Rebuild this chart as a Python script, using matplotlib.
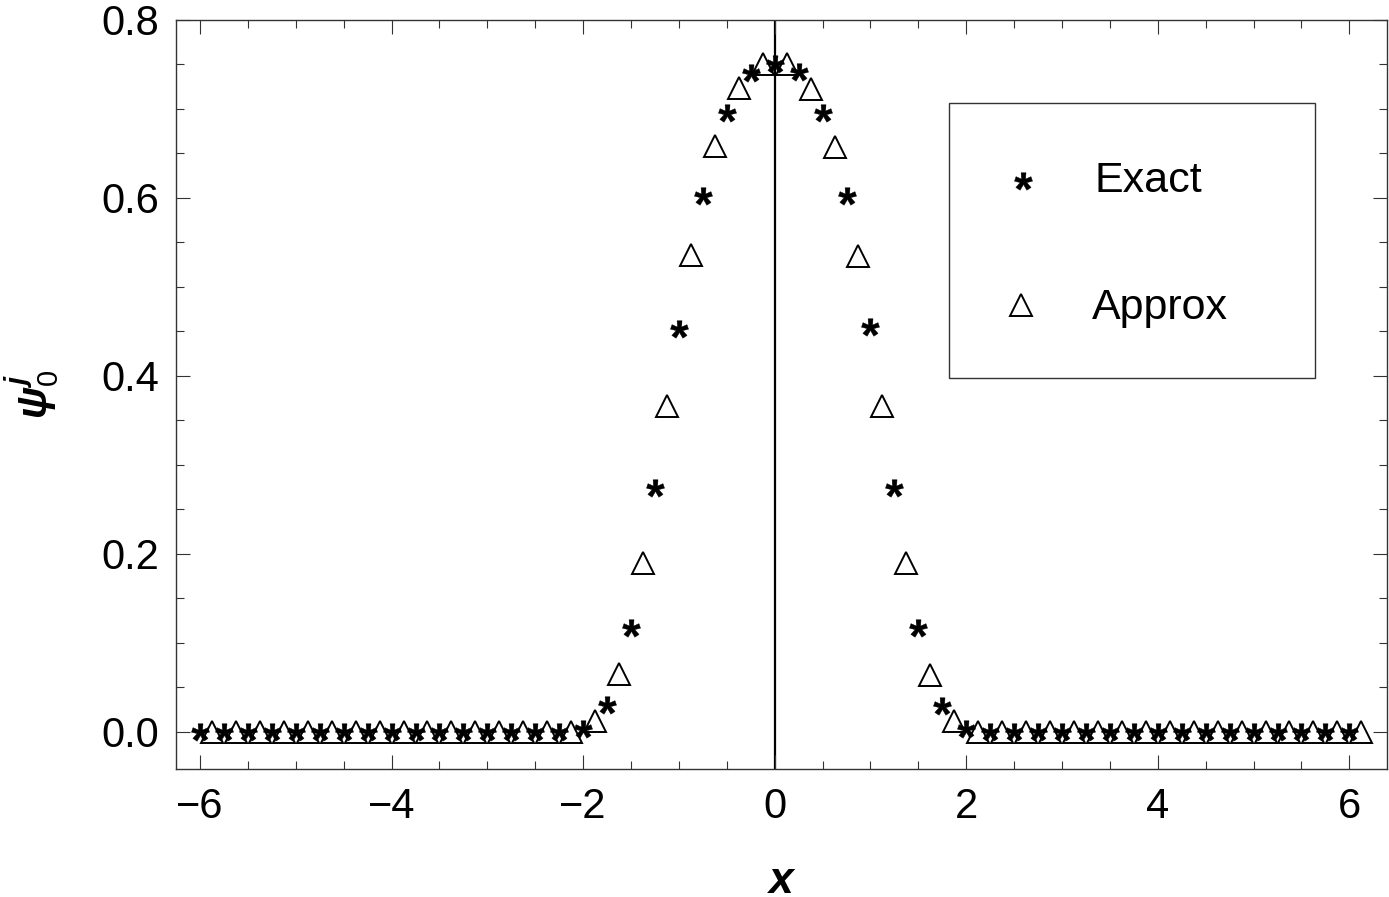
import numpy as np
import matplotlib
matplotlib.use("Agg")
import matplotlib.pyplot as plt
from matplotlib.textpath import TextPath
from matplotlib.font_manager import FontProperties
from matplotlib.path import Path
from matplotlib.lines import Line2D
from matplotlib.patches import Rectangle
from matplotlib.ticker import MultipleLocator

plt.rcParams['font.family'] = ['Liberation Sans', 'DejaVu Sans']
plt.rcParams['mathtext.fontset'] = 'custom'
plt.rcParams['mathtext.rm'] = 'Liberation Sans'
plt.rcParams['mathtext.it'] = 'Liberation Sans:italic:bold'
plt.rcParams['mathtext.bf'] = 'Liberation Sans:bold'

# ---- data ----
x_exact = [-6.0, -5.75, -5.5, -5.25, -5.0, -4.75, -4.5, -4.25, -4.0, -3.75, -3.5, -3.25,
           -3.0, -2.75, -2.5, -2.25, -2.0, -1.75, -1.5, -1.25, -1.0, -0.75, -0.5, -0.25,
           0.0, 0.25, 0.5, 0.75, 1.0, 1.25, 1.5, 1.75, 2.0, 2.25, 2.5, 2.75, 3.0, 3.25,
           3.5, 3.75, 4.0, 4.25, 4.5, 4.75, 5.0, 5.25, 5.5, 5.75, 6.0]
y_exact = [0, 0, 0, 0, 0, 0, 0, 0, 0, 0, 0, 0,
           0, 0, 0, 0, 0.003, 0.030, 0.117, 0.274, 0.453, 0.602, 0.696, 0.740,
           0.751, 0.741, 0.696, 0.602, 0.455, 0.274, 0.117, 0.029, 0.003, 0, 0, 0, 0, 0,
           0, 0, 0, 0, 0, 0, 0, 0, 0, 0, 0]

x_approx = [-5.875, -5.625, -5.375, -5.125, -4.875, -4.625, -4.375, -4.125, -3.875, -3.625,
            -3.375, -3.125, -2.875, -2.625, -2.375, -2.125, -1.875, -1.625, -1.375, -1.125,
            -0.875, -0.625, -0.375, -0.125, 0.125, 0.375, 0.625, 0.875, 1.125, 1.375,
            1.625, 1.875, 2.125, 2.375, 2.625, 2.875, 3.125, 3.375, 3.625, 3.875,
            4.125, 4.375, 4.625, 4.875, 5.125, 5.375, 5.625, 5.875, 6.125]
y_approx = [0, 0, 0, 0, 0, 0, 0, 0, 0, 0,
            0, 0, 0, 0, 0, 0, 0.012, 0.065, 0.190, 0.366,
            0.536, 0.658, 0.723, 0.751, 0.751, 0.722, 0.657, 0.535, 0.366, 0.190,
            0.064, 0.012, 0, 0, 0, 0, 0, 0, 0, 0,
            0, 0, 0, 0, 0, 0, 0, 0, 0]

x_ticks = [-6, -4, -2, 0, 2, 4, 6]
y_ticks = [0.0, 0.2, 0.4, 0.6, 0.8]
labels = ["Exact", "Approx"]

# ---- figure ----
W, H = 1389, 897
fig = plt.figure(figsize=(W / 100, H / 100), dpi=100)
L, R, T, B = 175.7, 1386.7, 20.0, 769.3
ax = fig.add_axes([L / W, 1 - B / H, (R - L) / W, (B - T) / H])

# asterisk marker from glyph (centered, close-poly vertices cleaned)
tp = TextPath((0, 0), '*', size=1, prop=FontProperties(family='Liberation Sans', weight='bold'))
v = tp.vertices.copy()
codes = tp.codes.copy()
real = codes != Path.CLOSEPOLY
ctr = (v[real].min(axis=0) + v[real].max(axis=0)) / 2
v = v - ctr
v[~real] = 0.0
star = Path(v, codes)

tri_kw = dict(marker='^', markersize=15.5, markerfacecolor='none',
              markeredgecolor='black', markeredgewidth=1.4, linestyle='none')
star_kw = dict(marker=star, markersize=13, markerfacecolor='black',
               markeredgecolor='black', markeredgewidth=0.3, linestyle='none')

ax.axvline(0, color='black', lw=1.6, zorder=1)
ax.plot(x_approx, y_approx, zorder=3, **tri_kw)
ax.plot(x_exact, y_exact, zorder=4, **star_kw)

ax.set_xlim(-6.254, 6.39)
ax.set_ylim(-0.0423, 0.8)
ax.set_xticks(x_ticks)
ax.set_xticklabels(["\u22126", "\u22124", "\u22122", "0", "2", "4", "6"])
ax.set_yticks(y_ticks)
ax.set_yticklabels(["0.0", "0.2", "0.4", "0.6", "0.8"])
ax.xaxis.set_minor_locator(MultipleLocator(0.5))
ax.yaxis.set_minor_locator(MultipleLocator(0.05))

spine_c = '#333333'
for s in ax.spines.values():
    s.set_color(spine_c)
    s.set_linewidth(1.0)
ax.tick_params(which='both', direction='in', top=True, right=True, color=spine_c, width=0.8)
ax.tick_params(which='major', length=10)
ax.tick_params(which='minor', length=5.8)
ax.tick_params(axis='x', which='major', labelsize=30, pad=13)
ax.tick_params(axis='y', which='major', labelsize=30, pad=12)

ax.set_xlabel('x', fontsize=32, fontweight='bold', fontstyle='italic', va='baseline')
ax.xaxis.set_label_coords(0.5, -0.165)
ax.set_ylabel(r'$\psi_0^j$', fontsize=30, va='center', ha='center')
ax.yaxis.set_label_coords(-0.118, 0.5)

# ---- legend (manual) ----
def fx(px):
    return px / W

def fy(py):
    return 1 - py / H

fig.add_artist(Rectangle((fx(949), fy(378)), fx(1315) - fx(949), fy(103) - fy(378),
                         transform=fig.transFigure, facecolor='white',
                         edgecolor='#333333', lw=1.0, zorder=5))
fig.add_artist(Line2D([fx(1023)], [fy(181)], transform=fig.transFigure, zorder=6, **star_kw))
fig.add_artist(Line2D([fx(1021)], [fy(305)], transform=fig.transFigure, zorder=6, **tri_kw))
fig.text(fx(1094), fy(192), labels[0], fontsize=31, va='baseline', ha='left', zorder=6)
fig.text(fx(1092), fy(318.5), labels[1], fontsize=31, va='baseline', ha='left', zorder=6)

fig.savefig('out.png', dpi=100)
